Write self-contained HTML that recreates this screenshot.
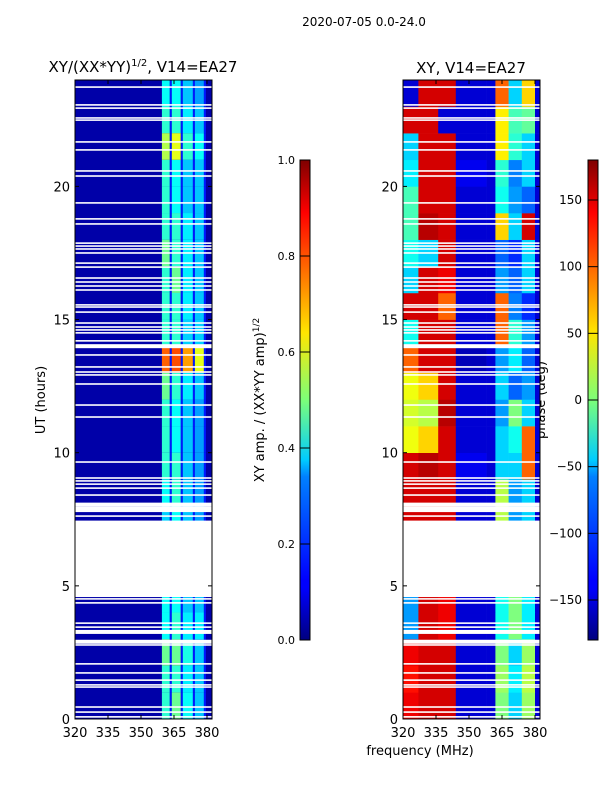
<!DOCTYPE html>
<html><head><meta charset="utf-8"><style>
body{margin:0;background:#fff;font-family:"Liberation Sans","DejaVu Sans",sans-serif;}
svg text{font-family:"DejaVu Sans","Liberation Sans",sans-serif;fill:#000;}
</style></head><body>
<svg id="fig" width="600" height="800" viewBox="0 0 600 800">
<text x="364" y="26" font-size="12" text-anchor="middle">2020-07-05 0.0-24.0</text>
<text x="143" y="72" font-size="15" text-anchor="middle">XY/(XX*YY)<tspan dy="-6" font-size="10">1/2</tspan><tspan dy="6">, V14=EA27</tspan></text>
<text x="471" y="73" font-size="15" text-anchor="middle">XY, V14=EA27</text>
<text transform="translate(45,400) rotate(-90)" font-size="13" text-anchor="middle">UT (hours)</text>
<text x="420" y="755" font-size="13" text-anchor="middle">frequency (MHz)</text>
<text transform="translate(264,400) rotate(-90)" font-size="13" text-anchor="middle">XY amp. / (XX*YY amp)<tspan dy="-5" font-size="9">1/2</tspan></text>
<text transform="translate(545,400) rotate(-90)" font-size="13" text-anchor="middle">phase (deg)</text>
<g id="left"></g>
<g id="right"></g>
<g id="axes"></g>
<defs>
<linearGradient id="jet" x1="0" y1="1" x2="0" y2="0">
<stop offset="0" stop-color="#00007f"/><stop offset="0.11" stop-color="#0000ff"/><stop offset="0.125" stop-color="#0000ff"/>
<stop offset="0.34" stop-color="#0080ff"/><stop offset="0.375" stop-color="#00ccff"/><stop offset="0.5" stop-color="#7cff79"/>
<stop offset="0.64" stop-color="#ffe600"/><stop offset="0.75" stop-color="#ff8000"/><stop offset="0.89" stop-color="#ff0000"/><stop offset="1" stop-color="#7f0000"/>
</linearGradient></defs>
<rect x="300" y="160" width="10" height="480" fill="url(#jet)" stroke="#000" stroke-width="1"/>
<rect x="588" y="160" width="10" height="480" fill="url(#jet)" stroke="#000" stroke-width="1"/>
<g id="cbticks"></g>
</svg>
<script>
const freqTicks=[320,335,350,365,380];
const hourTicks=[0,5,10,15,20];
const ampTicks=[0.0,0.2,0.4,0.6,0.8,1.0];
const phaseTicks=[-150,-100,-50,0,50,100,150];
const ampBandEdges=[359.5,364,369,374.5,379.5];
const ampBackground=0.04;
const ampRows=[
[0.42,0.48,0.38,0.32],[0.42,0.42,0.36,0.32],[0.48,0.48,0.4,0.32],[0.38,0.42,0.36,0.36],[0.38,0.38,0.32,0.32],
[0.4,0.4,0.4,0.35],[0.4,0.4,0.4,0.35],[0.33,0.38,0.32,0.28],[0.38,0.42,0.32,0.28],[0.42,0.42,0.32,0.28],
[0.42,0.38,0.32,0.28],[0.42,0.38,0.32,0.28],[0.48,0.42,0.36,0.32],[0.78,0.8,0.72,0.6],[0.42,0.42,0.33,0.33],
[0.42,0.42,0.36,0.32],[0.42,0.48,0.36,0.32],[0.48,0.42,0.36,0.32],[0.42,0.42,0.36,0.32],[0.42,0.38,0.32,0.32],
[0.42,0.38,0.32,0.32],[0.55,0.6,0.42,0.38],[0.42,0.42,0.36,0.32],[0.38,0.38,0.32,0.28]];
const phaseColEdges=[320,327,336,344,358,362,368,374,380,382.3];
const phaseRows=[
[140,150,150,-150,-150,0,-60,10,-150],[130,150,150,-150,-150,10,-50,20,-150],[140,150,150,-150,-150,0,-60,10,-150],
[-80,150,140,-150,-150,-40,0,-50,-150],[-80,150,140,-150,-150,-40,0,-50,-150],[0,0,0,0,0,0,0,0,0],[0,0,0,0,0,0,0,0,0],
[150,150,150,-150,-150,20,-80,-60,-150],[150,150,150,-150,-150,20,-80,-60,-150],[150,160,150,-140,-150,-60,-60,100,-150],
[40,60,150,-150,-150,-60,-40,100,-150],[30,20,160,-150,-150,-80,0,-60,-150],[40,60,150,-150,-150,-60,-100,-80,-150],
[100,150,150,-160,-150,-80,-50,-100,-150],[-40,150,150,-150,-150,100,-30,-80,-150],[150,150,100,-150,-150,100,-90,-120,-150],
[-60,150,140,-150,-150,-80,-100,-60,-150],[-40,-60,150,-150,-150,-100,-120,-60,-150],[-20,160,150,-150,-150,60,-60,150,-150],
[-20,150,150,-150,-150,-40,-80,-100,-150],[-50,150,150,-140,-150,-30,-90,-60,-150],[-60,150,150,-150,-150,50,-30,-60,-150],
[150,150,-150,-150,-150,50,-20,-10,-150],[-150,150,150,-150,-150,100,-60,60,-150]];
const gapStart=4.58, gapEnd=7.45;
const flagHours=[23.73,23.06,22.94,22.57,22.49,21.67,21.37,20.58,20.39,19.38,18.78,18.59,17.87,17.76,17.65,17.5,17.12,16.97,16.56,16.41,16.26,16.11,15.55,15.47,15.28,14.87,14.72,14.61,14.5,14.2,14.0,13.67,13.22,13.03,12.92,12.58,11.79,11.34,9.65,9.05,8.94,8.82,8.67,8.41,8.05,7.9,7.8,7.62,4.51,4.36,3.6,3.45,3.27,2.9,2.78,2.07,1.73,1.46,1.28,1.2,0.45,0.26,0.08];
const thickHours=[14.0,8.05,7.9,3.27,2.9];

const NS="http://www.w3.org/2000/svg";
const Y0=719,PXH=26.63,PXM=2.2;
function yH(h){return Y0-h*PXH;}
function xF(f,x0){return x0+(f-320)*PXM;}
function jet(v){v=Math.max(0,Math.min(1,v));
 const r=Math.max(0,Math.min(1,1.5-Math.abs(4*v-3))),g=Math.max(0,Math.min(1,1.5-Math.abs(4*v-2))),b=Math.max(0,Math.min(1,1.5-Math.abs(4*v-1)));
 return `rgb(${r*255|0},${g*255|0},${b*255|0})`;}
function mk(tag,attrs,parent){const e=document.createElementNS(NS,tag);for(const k in attrs)e.setAttribute(k,attrs[k]);parent.appendChild(e);return e;}
const L=document.getElementById('left'),R=document.getElementById('right'),A=document.getElementById('axes'),C=document.getElementById('cbticks');
const LX=75,RX=403,W=137;
let bg=mk('rect',{x:LX,y:80,width:W,height:639,fill:jet(ampBackground)},L);


ampRows.forEach((row,h)=>{row.forEach((v,i)=>{
 const x1=xF(ampBandEdges[i],LX),x2=xF(ampBandEdges[i+1],LX)-2;
 const r=mk('rect',{x:x1,y:yH(h+1),width:x2-x1,height:PXH,fill:jet(v)},L);
 
 
 const s=mk('rect',{x:x2,y:yH(h+1),width:2,height:PXH,fill:jet(0.15)},L);
 
 
});});
phaseRows.forEach((row,h)=>{row.forEach((v,i)=>{
 const x1=xF(phaseColEdges[i],RX),x2=xF(phaseColEdges[i+1],RX);
 const r=mk('rect',{x:x1,y:yH(h+1),width:x2-x1+0.3,height:PXH+0.3,fill:jet((v+180)/360)},R);
 
 
});});
[LX,RX].forEach(x0=>{
 const g=mk('rect',{x:x0,y:yH(gapEnd),width:W,height:(gapEnd-gapStart)*PXH,fill:'#fff'},x0==LX?L:R);
 
 
 flagHours.forEach(h=>{const t=thickHours.includes(h)?4:1.6;
  const f=mk('rect',{x:x0,y:yH(h)-t/2,width:W,height:t,fill:'#fff'},x0==LX?L:R);
  
  });
});
[LX,RX].forEach(x0=>{
 const fr=mk('rect',{x:x0,y:80,width:W,height:639,fill:'none',stroke:'#000','stroke-width':1},A);
 
 
 freqTicks.forEach(f=>{const x=xF(f,x0);
  mk('line',{x1:x,x2:x,y1:719,y2:715,stroke:'#000'},A);mk('line',{x1:x,x2:x,y1:80,y2:84,stroke:'#000'},A);
  const t=mk('text',{x:x,y:737,'font-size':13,'text-anchor':'middle'},A);t.textContent=f;
  
  });
 hourTicks.forEach(h=>{const y=yH(h);
  mk('line',{x1:x0,x2:x0+4,y1:y,y2:y,stroke:'#000'},A);mk('line',{x1:x0+W,x2:x0+W-4,y1:y,y2:y,stroke:'#000'},A);
  const t=mk('text',{x:x0-5,y:y+5,'font-size':13,'text-anchor':'end'},A);t.textContent=h;
  
  });
});
ampTicks.forEach(v=>{const y=640-v*480;
 mk('line',{x1:300,x2:310,y1:y,y2:y,stroke:'#000'},C);
 const t=mk('text',{x:295,y:y+4,'font-size':11,'text-anchor':'end'},C);t.textContent=v.toFixed(1);
 
 });
phaseTicks.forEach(v=>{const y=640-(v+180)/360*480;
 mk('line',{x1:588,x2:598,y1:y,y2:y,stroke:'#000'},C);
 const t=mk('text',{x:582,y:y+4,'font-size':12,'text-anchor':'end'},C);t.textContent=v<0?'\u2212'+(-v):v;
 
 });
</script>
</body></html>
